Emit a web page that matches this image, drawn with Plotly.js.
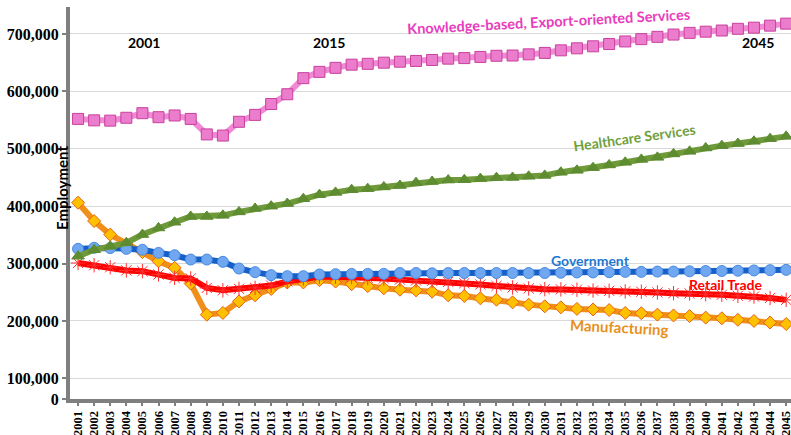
<!DOCTYPE html>
<html><head><meta charset="utf-8">
<script src="https://cdn.plot.ly/plotly-3.0.1.min.js"></script>
<style>html,body{margin:0;padding:0;background:#fff}</style>
</head><body><div id="chart" style="width:791px;height:435px"></div>
<script>
const years = [];
for (let y = 2001; y <= 2045; y++) years.push(String(y));

const knowledge = [552000,549500,549000,554000,562000,555000,558000,552000,525000,523000,547000,559000,578000,595000,623000,634000,641000,646500,648000,650000,
 651700,653000,654700,657000,658000,660000,662000,662500,664500,667000,671500,675000,678500,682500,687000,691000,695000,699000,702000,704000,706000,709000,711000,714500,718000];
const healthcare = [312700,324000,330000,336000,350500,362000,372000,382000,382000,384000,390000,396000,400000,404500,413000,420000,424000,428700,430500,433500,
 436000,441000,443000,445500,446000,448000,449700,450000,452000,453600,459000,462400,467000,471800,476400,481500,485000,491000,495500,501400,505400,509000,513000,517600,521600];
const government = [325600,327400,327000,325600,324000,318600,314500,307000,307000,303000,291300,285000,279800,278000,278000,280900,281500,282000,282000,282000,
 283500,283500,283000,283500,283500,283500,283500,283500,283500,283500,284000,284500,284500,285000,285500,285500,286000,286000,286500,287000,287000,287500,288000,288500,289000];
const retail = [301000,297000,293600,288000,286700,281000,275000,274000,257600,253400,256000,257600,261600,269000,274000,277000,277000,276700,275000,274000,
 272000,270600,270000,268000,265800,263500,261000,258300,256600,255400,255000,254500,253000,252500,251500,251000,249600,248400,248000,246600,245500,243800,242500,240000,236700];
const manufacturing = [406000,374000,350500,334000,320000,304000,292500,265200,211000,214000,234000,244600,255700,267000,267000,271000,268600,264000,260600,257000,
 254500,253300,251000,244600,243500,239400,237000,232400,228400,225500,223700,221000,220000,219000,214000,213500,211000,209600,208500,205800,204600,202000,200000,197300,194600];

const yTickVals = [64000,100000,200000,300000,400000,500000,600000,700000];
const yTickText = ['0','100,000','200,000','300,000','400,000','500,000','600,000','700,000'];

const seriesNames = ['Knowledge-based, Export-oriented Services','Healthcare Services','Government','Retail Trade','Manufacturing'];

function px(x){return (x-70)/721;}
function py(y){return (399-y)/392;}

const traces = [
 {x:years,y:manufacturing,name:seriesNames[4],type:'scatter',mode:'lines+markers',
  line:{color:'#f0901a',width:6},marker:{symbol:'diamond',size:10,color:'#ffc000',line:{color:'#e8601a',width:1}}},
 {x:years,y:retail,name:seriesNames[3],type:'scatter',mode:'lines+markers',
  line:{color:'#ff0000',width:6},marker:{symbol:'asterisk-open',size:12,color:'#ff3030',line:{color:'#ff3030',width:1}}},
 {x:years,y:government,name:seriesNames[2],type:'scatter',mode:'lines+markers',
  line:{color:'#1560c8',width:6},marker:{symbol:'circle',size:11,color:'#6fa8f0',line:{color:'#4a88e0',width:1}}},
 {x:years,y:healthcare,name:seriesNames[1],type:'scatter',mode:'lines+markers',
  line:{color:'#6f9a3a',width:6},marker:{symbol:'triangle-up',size:11,color:'#5e8c31',line:{color:'#5e8c31',width:1}}},
 {x:years,y:knowledge,name:seriesNames[0],type:'scatter',mode:'lines+markers',
  line:{color:'#f08ad4',width:6},marker:{symbol:'square',size:11,color:'#ec7ccc',line:{color:'#c8409e',width:1}}}
];

const annFont = (c,s)=>({family:'Lato, Open Sans, sans-serif',size:s||14,color:c,weight:'bold'});
function ann(x,y,text,color,size,angle){
 return {xref:'paper',yref:'paper',x:px(x),y:py(y),xanchor:'center',yanchor:'middle',text:text,
  textangle:angle||0,showarrow:false,font:annFont(color,size)};
}
const layout = {
 width:791,height:435,
 margin:{l:70,r:0,t:7,b:36,pad:0},
 paper_bgcolor:'#ffffff',plot_bgcolor:'#ffffff',
 showlegend:false,
 xaxis:{type:'category',range:[-0.5,44.3],showgrid:false,showline:true,linecolor:'#7f7f7f',linewidth:4,
  ticks:'outside',ticklen:3,tickwidth:2,tickcolor:'#7f7f7f',tickangle:-90,
  tickfont:{family:'Liberation Serif, serif',size:12.5,color:'#000',weight:'bold'},zeroline:false},
 yaxis:{range:[64000,747000],tickvals:yTickVals,ticktext:yTickText,showgrid:true,gridcolor:'#d9d9d9',gridwidth:1,
  showline:true,linecolor:'#7f7f7f',linewidth:4,ticks:'outside',ticklen:4,tickwidth:2,tickcolor:'#7f7f7f',
  tickfont:{family:'Liberation Serif, serif',size:16,color:'#000',weight:'bold'},zeroline:false},
 annotations:[
  ann(62,188,'Employment','#000',15,-90),
  ann(144,42,'2001','#000',14),
  ann(329,42,'2015','#000',14),
  ann(758,42,'2045','#000',14),
  ann(548,22,seriesNames[0],'#e83cbd',14.5,-3),
  ann(634,138,seriesNames[1],'#70a03c',14,-8),
  ann(590,260,seriesNames[2],'#1f78d1',14),
  ann(725,284,seriesNames[3],'#ff0000',14),
  ann(619,327,seriesNames[4],'#e8901c',15,3)
 ]
};
Plotly.newPlot('chart',traces,layout,{displayModeBar:false,staticPlot:true});
</script></body></html>
